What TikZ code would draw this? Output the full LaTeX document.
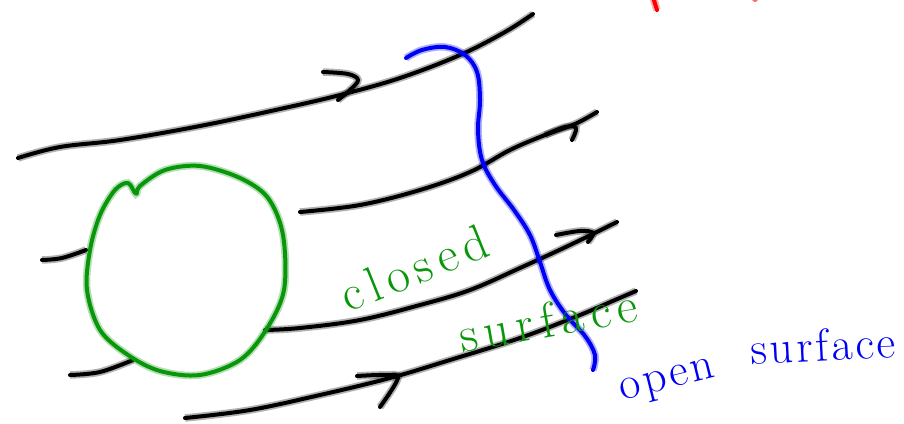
\documentclass[tikz,border=0pt]{standalone}
\usetikzlibrary{calc}
\definecolor{inkgreen}{RGB}{10,150,10}
\definecolor{inkblue}{RGB}{0,0,245}
\definecolor{inkred}{RGB}{255,0,0}
\tikzset{
  ink/.style={draw=#1, line cap=round, line join=round, line width=4pt,
    preaction={draw=#1, line width=7.5pt, draw opacity=0.3}},
  flux/.style={ink=black},
  surf/.style={ink=inkblue},
  closedsurf/.style={ink=inkgreen},
  hand/.style={inner sep=0pt},
}
\newcommand{\gk}{\kern7pt}
\begin{document}
\begin{tikzpicture}[x=1pt,y=-1pt]
\useasboundingbox (0,0) rectangle (904,423);
\clip (0,0) rectangle (904,423);

% red marks at top
\draw[ink=inkred] (652,-6) -- (657,10);
\fill[inkred, opacity=0.6] (755,-1) circle (3);

% flux line 1
\draw[flux] plot[smooth, tension=0.6] coordinates {(18,158) (60,147) (120,140) (200,126) (280,109) (340,95) (400,78) (460,55) (505,32) (533,14)};
\draw[flux] plot[smooth, tension=0.6] coordinates {(323,72) (348,74) (358,80) (350,90) (338,100)};

% flux line 2
\draw[flux] plot[smooth, tension=0.6] coordinates {(300,212) (360,205) (420,190) (470,172) (510,150) (545,135) (575,124) (597,112)};
\draw[flux] plot[smooth, tension=0.6] coordinates {(545,135) (565,127) (576,128) (572,140)};

% flux line 3
\draw[flux] plot[smooth, tension=0.6] coordinates {(42,260) (62,258) (86,250)};
\draw[flux] plot[smooth, tension=0.6] coordinates {(265,330) (300,328) (360,320) (420,305) (470,290) (520,268) (570,245) (617,222)};
\draw[flux] plot[smooth, tension=0.6] coordinates {(556,235) (580,231) (593,233) (588,242)};

% flux line 4
\draw[flux] plot[smooth, tension=0.6] coordinates {(70,375) (100,372) (133,360)};
\draw[flux] plot[smooth, tension=0.6] coordinates {(185,418) (250,410) (320,395) (390,378) (450,360) (520,338) (580,315) (615,300) (636,291)};
\draw[flux] plot[smooth, tension=0.6] coordinates {(357,376) (385,375) (398,378) (380,407)};

% closed surface
\draw[closedsurf] plot[smooth cycle, tension=0.55] coordinates {(136,194) (140,186) (165,170) (200,166) (240,178) (268,198) (283,235) (284,290) (266,330) (240,360) (200,375) (160,371) (128,355) (100,330) (87,290) (90,250) (100,215) (115,190) (128,183)};

% open surface
\draw[surf] plot[smooth, tension=0.6] coordinates {(406,58) (422,50) (445,47) (465,55) (477,72) (480,100) (478,130) (482,160) (495,185) (514,210) (530,235) (540,262) (550,290) (566,315) (585,336) (595,355) (593,370)};

% labels
\node[hand, text=inkgreen, rotate=22, font=\fontsize{50}{50}\selectfont] (closedlbl) at (414,268) {c\gk l\gk o\gk s\gk e\gk d};
\node[hand, text=inkgreen, rotate=10, font=\fontsize{50}{50}\selectfont] (surflbl) at (548,320) {s\gk u\gk r\gk f\gk a\gk c\gk e};
\node[hand, text=inkblue, rotate=14, font=\fontsize{46}{46}\selectfont] (openlbl) at (668,383) {o\kern3pt p\kern3pt e\kern3pt n};
\node[hand, text=inkblue, rotate=3, font=\fontsize{46}{46}\selectfont] (osurflbl) at (823,345) {s\kern3pt u\kern3pt r\kern3pt f\kern3pt a\kern3pt c\kern3pt e};
\end{tikzpicture}
\end{document}
